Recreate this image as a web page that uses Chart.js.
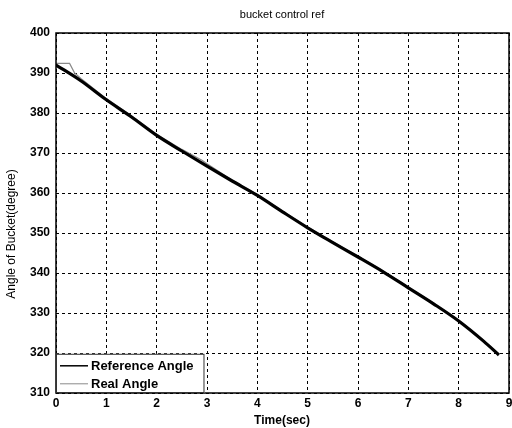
<!DOCTYPE html>
<html>
<head>
<meta charset="utf-8">
<script src="https://cdn.jsdelivr.net/npm/chart.js@4.4.0/dist/chart.umd.min.js"></script>
<style>
  html, body { margin: 0; padding: 0; background: #fff; }
  #wrap { width: 512px; height: 428px; }
</style>
</head>
<body>
<div id="wrap"><canvas id="c" width="512" height="428"></canvas></div>
<script>
const chartTitle = "bucket control ref";
const xTitle = "Time(sec)";
const yTitle = "Angle of Bucket(degree)";
const xTicks = [0, 1, 2, 3, 4, 5, 6, 7, 8, 9];
const yTicks = [310, 320, 330, 340, 350, 360, 370, 380, 390, 400];

const refTime  = [0, 0.5, 1, 1.5, 2, 2.5, 3, 3.5, 4, 4.5, 5, 5.5, 6, 6.5, 7, 7.5, 8, 8.5, 8.8];
const refAngle = [392, 388, 383.3, 379, 374.4, 370.5, 366.7, 363, 359.4, 355.3, 351.3, 347.6, 344, 340.3, 336.3, 332.3, 328, 322.9, 319.5];

const realTime  = [0, 0.27, 0.37, 0.5, 1, 1.5, 2, 2.5, 2.9, 3, 3.1, 3.5, 4, 4.5, 5, 5.5, 6, 6.5, 7, 7.5, 8, 8.5, 8.8];
const realAngle = [392.4, 392.4, 390, 388.6, 383.6, 379.3, 374.7, 370.9, 368.2, 367.3, 366.5, 363.2, 359.6, 355.5, 351.5, 347.8, 344.2, 340.5, 336.5, 332.5, 328.2, 323.1, 319.7];

const seriesLabels = ["Reference Angle", "Real Angle"];
const seriesColors = ["#000000", "#8a8a8a"];

const toXY = (xs, ys) => xs.map((x, i) => ({ x: x, y: ys[i] }));

const FONT = "'Liberation Sans', Arial, sans-serif";

const decor = {
  id: 'decor',
  afterDraw(chart) {
    const ctx = chart.ctx;
    const a = chart.chartArea;
    ctx.save();
    ctx.strokeStyle = '#000';
    ctx.lineWidth = 1.5;
    ctx.setLineDash([]);
    ctx.strokeRect(a.left, a.top, a.right - a.left, a.bottom - a.top);
    ctx.fillStyle = '#000';
    ctx.font = '11px ' + FONT;
    ctx.textAlign = 'center';
    ctx.textBaseline = 'middle';
    ctx.fillText(chartTitle, 282, 15);
    ctx.font = 'bold 12px ' + FONT;
    ctx.fillText(xTitle, 282, 421);
    ctx.save();
    ctx.translate(12, 234);
    ctx.rotate(-Math.PI / 2);
    ctx.font = '12px ' + FONT;
    ctx.fillText(yTitle, 0, 0);
    ctx.restore();
    const xs = chart.scales.x, ys = chart.scales.y;
    const lx0 = a.left, lx1 = xs.getPixelForValue(2.95);
    const ly0 = ys.getPixelForValue(319.8), ly1 = a.bottom;
    ctx.fillStyle = '#fff';
    ctx.fillRect(lx0, ly0, lx1 - lx0, ly1 - ly0);
    ctx.strokeStyle = '#333';
    ctx.lineWidth = 1;
    ctx.strokeRect(lx0 + 0.5, ly0 + 0.5, lx1 - lx0 - 1, ly1 - ly0 - 1);
    const rows = [ly0 + 12, ly0 + 30];
    chart.data.datasets.forEach((ds, i) => {
      ctx.strokeStyle = ds.borderColor;
      ctx.lineWidth = i === 0 ? 1.5 : 1;
      ctx.beginPath();
      ctx.moveTo(lx0 + 4, rows[i]);
      ctx.lineTo(lx0 + 32, rows[i]);
      ctx.stroke();
      ctx.fillStyle = '#000';
      ctx.font = 'bold 13px ' + FONT;
      ctx.textAlign = 'left';
      ctx.textBaseline = 'middle';
      ctx.fillText(ds.label, lx0 + 35, rows[i] + 1);
    });
    ctx.restore();
  }
};

new Chart(document.getElementById('c'), {
  type: 'line',
  data: {
    datasets: [
      { label: seriesLabels[0], data: toXY(refTime, refAngle), borderColor: seriesColors[0], borderWidth: 3.2, pointRadius: 0, cubicInterpolationMode: 'monotone', order: 0 },
      { label: seriesLabels[1], data: toXY(realTime, realAngle), borderColor: seriesColors[1], borderWidth: 1.2, pointRadius: 0, tension: 0, order: 1 }
    ]
  },
  options: {
    responsive: false,
    animation: false,
    layout: { padding: { top: 33, right: 3, left: 0, bottom: 0 } },
    plugins: { legend: { display: false }, title: { display: false }, tooltip: { enabled: false } },
    scales: {
      x: {
        type: 'linear', min: 0, max: 9,
        afterFit(s) { s.height = 35; s.paddingRight = 0; s.paddingLeft = 0; },
        afterBuildTicks(s) { s.ticks = xTicks.map(v => ({ value: v })); },
        grid: { color: '#000', lineWidth: 1, drawTicks: false },
        border: { display: false, dash: [3, 3] },
        ticks: { color: '#000', font: { family: FONT, size: 12, weight: 'bold' }, padding: 3, maxRotation: 0 }
      },
      y: {
        type: 'linear', min: 310, max: 400,
        afterFit(s) { s.width = 56; s.paddingTop = 0; s.paddingBottom = 0; },
        afterBuildTicks(s) { s.ticks = yTicks.map(v => ({ value: v })); },
        grid: { color: '#000', lineWidth: 1, drawTicks: false },
        border: { display: false, dash: [3, 3] },
        ticks: { color: '#000', font: { family: FONT, size: 12, weight: 'bold' }, padding: 6 }
      }
    }
  },
  plugins: [decor]
});
</script>
</body>
</html>
